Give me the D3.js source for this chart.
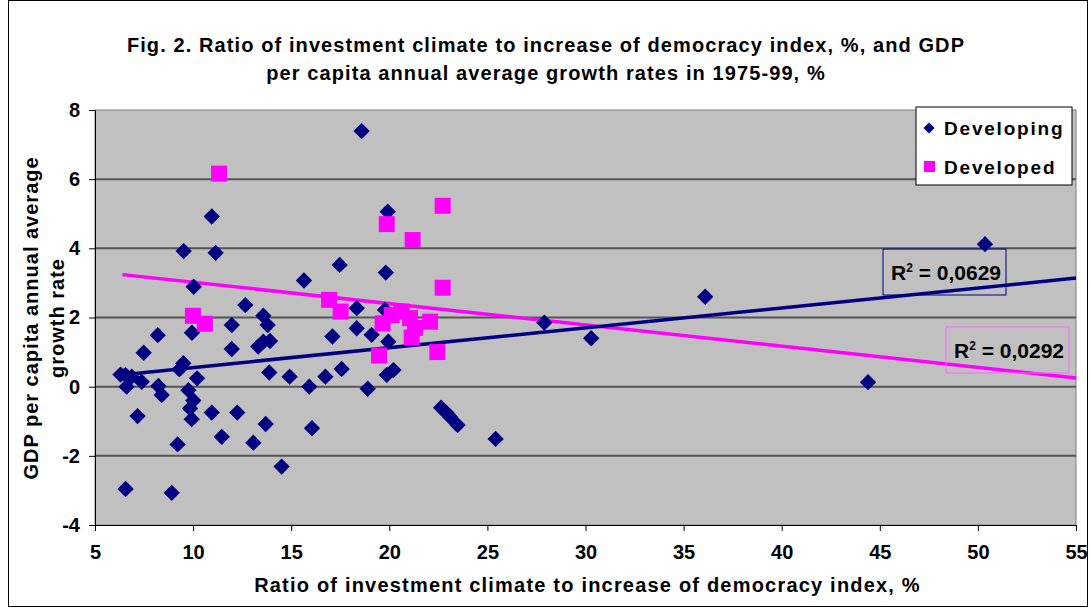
<!DOCTYPE html>
<html>
<head>
<meta charset="utf-8">
<script src="https://cdn.jsdelivr.net/npm/d3@7"></script>
<style>
  body { margin: 0; background: #fff; }
  svg { font-family: "Liberation Sans", Arial, sans-serif; font-weight: bold; }
</style>
</head>
<body>
<svg id="chart" width="1091" height="610"></svg>
<script>
// values: [ratio, growth]
let developing = [
  [6.3, 0.35], [6.55, 0.34], [6.87, 0.29], [6.61, 0.0], [7.38, 0.14], [8.23, 0.02],
  [8.4, -0.24], [9.3, 0.5], [9.5, 0.68], [10.2, 0.24], [9.76, -0.1], [10.01, -0.4],
  [9.84, -0.63], [9.93, -0.94], [10.95, -0.75], [12.25, -0.75], [13.88, 0.41], [13.7, -1.08],
  [7.17, -0.85], [7.48, 0.98], [8.2, 1.49], [9.94, 1.56], [11.97, 1.78], [11.97, 1.09],
  [12.66, 2.36], [13.58, 2.05], [13.8, 1.78], [13.32, 1.16], [13.58, 1.3], [13.92, 1.32],
  [10.03, 2.89], [9.52, 3.92], [11.15, 3.87], [10.95, 4.92], [15.65, 3.07], [17.47, 3.52],
  [14.92, 0.29], [15.92, 0.0], [16.74, 0.29], [17.57, 0.51], [17.1, 1.45], [16.06, -1.2],
  [11.46, -1.45], [13.07, -1.62], [9.21, -1.67], [14.51, -2.31], [6.56, -2.96], [8.91, -3.07],
  [18.59, 7.39], [19.92, 5.06], [19.82, 3.3], [18.34, 2.27], [19.78, 2.22], [18.34, 1.69],
  [19.1, 1.5], [19.95, 1.3], [19.87, 0.34], [20.21, 0.48], [18.9, -0.06], [22.64, -0.61],
  [22.9, -0.75], [23.09, -0.87], [23.48, -1.11], [25.42, -1.51], [27.9, 1.85], [30.29, 1.4],
  [36.1, 2.6], [44.4, 0.13], [50.36, 4.12]
];
let developed = [
  [9.99, 2.05], [10.6, 1.82], [11.32, 6.16], [16.93, 2.51], [17.52, 2.17], [19.87, 4.7],
  [21.19, 4.24], [22.72, 5.23], [22.72, 2.86], [19.66, 1.83], [20.12, 2.07], [20.63, 2.17],
  [21.06, 1.98], [21.31, 1.7], [21.14, 1.42], [22.08, 1.88], [22.45, 1.0], [19.48, 0.9]
];
// trendlines as drawn (Excel linear fits)
let developingTrend = [[6.3, 0.34], [55, 3.14]];
let developedTrend = [[6.4, 3.24], [55, 0.25]];
let xTicks = [5, 10, 15, 20, 25, 30, 35, 40, 45, 50, 55];
let yTicks = [-4, -2, 0, 2, 4, 6, 8];
let seriesNames = ["Developing", "Developed"];
let r2Labels = ["0,0629", "0,0292"];

let svg = d3.select("#chart");
let navy = "#000080", pink = "#FF00FF";

let x = d3.scaleLinear().domain([5, 55]).range([95, 1076]),
    y = d3.scaleLinear().domain([-4, 8]).range([525, 110]);

// outer chart frame
svg.append("rect").attr("x", 8.5).attr("y", 0.5).attr("width", 1079).attr("height", 606)
  .attr("fill", "#fff").attr("stroke", "#000").attr("stroke-width", 1);

// title
let title = svg.append("text").attr("x", 546).attr("y", 52).attr("text-anchor", "middle")
  .style("font-size", "20px").style("letter-spacing", "1.1px");
title.append("tspan").attr("x", 546).text("Fig. 2. Ratio of investment climate to increase of democracy index, %, and GDP");
title.append("tspan").attr("x", 546).attr("dy", 28).text("per capita annual average growth rates in 1975-99, %");

// plot area
svg.append("rect").attr("x", x(5)).attr("y", y(8)).attr("width", x(55) - x(5)).attr("height", y(-4) - y(8))
  .attr("fill", "#C0C0C0").attr("stroke", "#808080");

svg.append("g").selectAll("line").data(yTicks.filter(d => d > -4 && d < 8)).join("line")
  .attr("x1", x(5)).attr("x2", x(55)).attr("y1", d => y(d)).attr("y2", d => y(d))
  .attr("stroke", "#555").attr("stroke-width", 2);

// axes
let xAxis = svg.append("g").attr("transform", "translate(0," + y(-4) + ")")
  .call(d3.axisBottom(x).tickValues(xTicks).tickSize(6).tickPadding(14).tickFormat(d3.format("d")));
let yAxis = svg.append("g").attr("transform", "translate(" + x(5) + ",0)")
  .call(d3.axisLeft(y).tickValues(yTicks).tickSize(6).tickPadding(9).tickFormat(d => d < 0 ? "-" + Math.abs(d) : d));
[xAxis, yAxis].forEach(a => {
  a.selectAll("text").style("font-size", "20px").style("font-weight", "bold").attr("fill", "#000")
    .style("font-family", "'Liberation Sans', Arial, sans-serif");
  a.selectAll("line").attr("stroke", "#000");
  a.select(".domain").attr("stroke", "#000");
});

// axis titles
svg.append("text").attr("x", x(30) + 2).attr("y", 592).attr("text-anchor", "middle")
  .style("font-size", "20px").style("letter-spacing", "1.2px")
  .text("Ratio of investment climate to increase of democracy index, %");
let yt = svg.append("text").attr("transform", "translate(38," + 318 + ") rotate(-90)")
  .attr("text-anchor", "middle").style("font-size", "20px").style("letter-spacing", "1px");
yt.append("tspan").attr("x", 0).text("GDP per capita annual average");
yt.append("tspan").attr("x", 0).attr("dy", 26).text("growth rate");

// trendlines
let line = d3.line().x(d => x(d[0])).y(d => y(d[1]));
svg.append("path").attr("d", line(developedTrend)).attr("fill", "none").attr("stroke", pink).attr("stroke-width", 3.5);
svg.append("path").attr("d", line(developingTrend)).attr("fill", "none").attr("stroke", navy).attr("stroke-width", 3.5);

// markers
let diamond = d3.symbol().type(d3.symbolDiamond2).size(170);
svg.append("g").selectAll("path").data(developing).join("path")
  .attr("d", diamond).attr("transform", d => "translate(" + x(d[0]) + "," + y(d[1]) + ")")
  .attr("fill", navy);
svg.append("g").selectAll("rect").data(developed).join("rect")
  .attr("x", d => x(d[0]) - 8).attr("y", d => y(d[1]) - 8).attr("width", 16).attr("height", 16)
  .attr("fill", pink);

// R² labels
function r2Box(bx, by, color, val) {
  let g = svg.append("g").attr("transform", "translate(" + bx + "," + by + ")");
  g.append("rect").attr("width", 123).attr("height", 46).attr("fill", "none").attr("stroke", color).attr("stroke-width", 1);
  let t = g.append("text").attr("x", 8).attr("y", 31).style("font-size", "21px");
  t.append("tspan").text("R");
  t.append("tspan").attr("dy", -8).style("font-size", "12px").text("2");
  t.append("tspan").attr("dy", 8).text(" = " + val);
}
r2Box(883, 249, navy, r2Labels[0]);
r2Box(946, 327, "#FF66FF", r2Labels[1]);

// legend
let lg = svg.append("g").attr("transform", "translate(916,107)");
lg.append("rect").attr("width", 156).attr("height", 78).attr("fill", "#fff").attr("stroke", "#000").attr("stroke-width", 1);
lg.append("path").attr("d", d3.symbol().type(d3.symbolDiamond2).size(80)).attr("transform", "translate(13,21)").attr("fill", navy);
lg.append("rect").attr("x", 8).attr("y", 54).attr("width", 11).attr("height", 11).attr("fill", pink);
lg.selectAll("text.lbl").data(seriesNames).join("text").attr("class", "lbl")
  .attr("x", 28).attr("y", (d, i) => 28 + i * 39).style("font-size", "19px").style("letter-spacing", "1.8px")
  .text(d => d);
</script>
</body>
</html>
